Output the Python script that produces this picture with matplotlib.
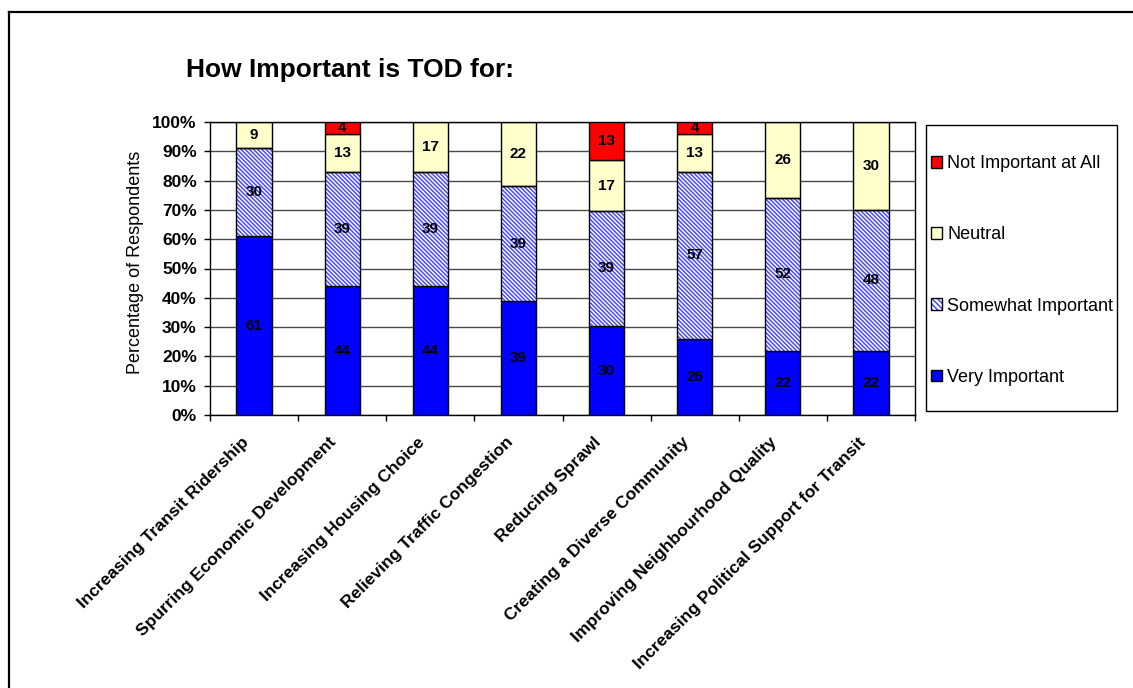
import numpy as np
import matplotlib
matplotlib.use("Agg")
import matplotlib.pyplot as plt
from matplotlib.patches import Patch, Rectangle
from matplotlib.lines import Line2D
from matplotlib.legend_handler import HandlerTuple
from matplotlib.transforms import ScaledTranslation

plt.rcParams['font.family'] = ['Liberation Sans', 'DejaVu Sans']
plt.rcParams['hatch.linewidth'] = 1.1

categories = [
    "Increasing Transit Ridership",
    "Spurring Economic Development",
    "Increasing Housing Choice",
    "Relieving Traffic Congestion",
    "Reducing Sprawl",
    "Creating a Diverse Community",
    "Improving Neighbourhood Quality",
    "Increasing Political Support for Transit",
]
very_important = [61, 44, 44, 39, 30, 26, 22, 22]
somewhat_important = [30, 39, 39, 39, 39, 57, 52, 48]
neutral = [9, 13, 17, 22, 17, 13, 26, 30]
not_important = [0, 4, 0, 0, 13, 4, 0, 0]

series_names = ["Very Important", "Somewhat Important", "Neutral", "Not Important at All"]
series = [very_important, somewhat_important, neutral, not_important]

W, H = 1133, 688
fig = plt.figure(figsize=(W / 100, H / 100), dpi=100)
ax = fig.add_axes([210 / W, 1 - 415 / H, (915 - 210) / W, (415 - 122) / H])

x = np.arange(len(categories))
vals = np.array(series, dtype=float)
totals = vals.sum(axis=0)
pct = vals / totals * 100.0

bar_w = 0.4
hatch_col = "#4b4bff"
hatch_pat = "\\" * 8
bottom = np.zeros(len(categories))
for k, name in enumerate(series_names):
    h = pct[k]
    if name == "Somewhat Important":
        ax.bar(x, h, bar_w, bottom=bottom, facecolor="white", edgecolor=hatch_col,
               hatch=hatch_pat, linewidth=0, zorder=3)
        ax.bar(x, h, bar_w, bottom=bottom, fill=False, edgecolor="black",
               linewidth=1.0, zorder=4)
    else:
        color = {"Very Important": "#0000ff", "Neutral": "#ffffcc",
                 "Not Important at All": "#ff0000"}[name]
        ax.bar(x, h, bar_w, bottom=bottom, color=color, edgecolor="black",
               linewidth=1.0, zorder=3)
    for i in range(len(categories)):
        if vals[k, i] > 0:
            ax.text(x[i], bottom[i] + h[i] / 2, f"{int(vals[k, i])}", ha="center",
                    va="center", fontsize=11, fontweight="bold", zorder=5)
    bottom += h

ax.set_xlim(-0.5, len(categories) - 0.5)
ax.set_ylim(0, 100)
ax.set_yticks(np.arange(0, 101, 10))
ax.set_yticklabels([f"{v}%" for v in range(0, 101, 10)], fontsize=12.5, fontweight="bold")
ax.yaxis.grid(True, color="#4a4a4a", linewidth=1.0, zorder=0)
ax.set_axisbelow(True)
ax.tick_params(axis="y", length=4, width=1, pad=5.5)

ax.set_xticks(x)
ax.set_xticklabels(categories, rotation=45, ha="right", va="center",
                   rotation_mode="anchor", fontsize=12.5, fontweight="bold")
ax.tick_params(axis="x", which="major", length=0, pad=18)
shift = ScaledTranslation(-8 / 100, 0, fig.dpi_scale_trans)
for lab in ax.get_xticklabels():
    lab.set_transform(lab.get_transform() + shift)
ax.set_xticks(np.arange(-0.5, len(categories), 1.0), minor=True)
ax.tick_params(axis="x", which="minor", length=4, width=1)

for s in ax.spines.values():
    s.set_linewidth(1.0)
    s.set_color("black")

ax.set_ylabel("Percentage of Respondents", fontsize=13)
ax.yaxis.set_label_coords(-0.093, 0.522)

fig.text(186 / W, 1 - 70 / H, "How Important is TOD for:", fontsize=19,
         fontweight="bold", ha="left", va="center")

# Legend box
fig.add_artist(Rectangle((926 / W, 1 - 411 / H), (1117 - 926) / W, (411 - 125) / H,
                         transform=fig.transFigure, fill=False, edgecolor="black",
                         linewidth=1.0))
handles = [
    Patch(facecolor="#ff0000", edgecolor="black", linewidth=1.0),
    Patch(facecolor="#ffffcc", edgecolor="black", linewidth=1.0),
    (Patch(facecolor="white", edgecolor=hatch_col, hatch="\\" * 6, linewidth=0),
     Patch(fill=False, edgecolor="black", linewidth=1.0)),
    Patch(facecolor="#0000ff", edgecolor="black", linewidth=1.0),
]
labels = ["Not Important at All", "Neutral", "Somewhat Important", "Very Important"]
fig.legend(handles, labels, loc="center left",
           bbox_to_anchor=(931 / W, 1 - 270.5 / H), frameon=False, fontsize=13,
           handlelength=0.6, handleheight=0.6, handletextpad=0.3,
           labelspacing=3.0, borderpad=0, borderaxespad=0,
           handler_map={tuple: HandlerTuple(ndivide=1, pad=0)})

# Outer frame
fig.add_artist(Line2D([9 / W, 9 / W], [0, 1 - 12 / H], transform=fig.transFigure,
                      color="black", linewidth=1.6, solid_capstyle="projecting"))
fig.add_artist(Line2D([9 / W, 1], [1 - 12 / H, 1 - 12 / H], transform=fig.transFigure,
                      color="black", linewidth=1.6, solid_capstyle="projecting"))

fig.savefig("out.png", dpi=100, facecolor="white")
